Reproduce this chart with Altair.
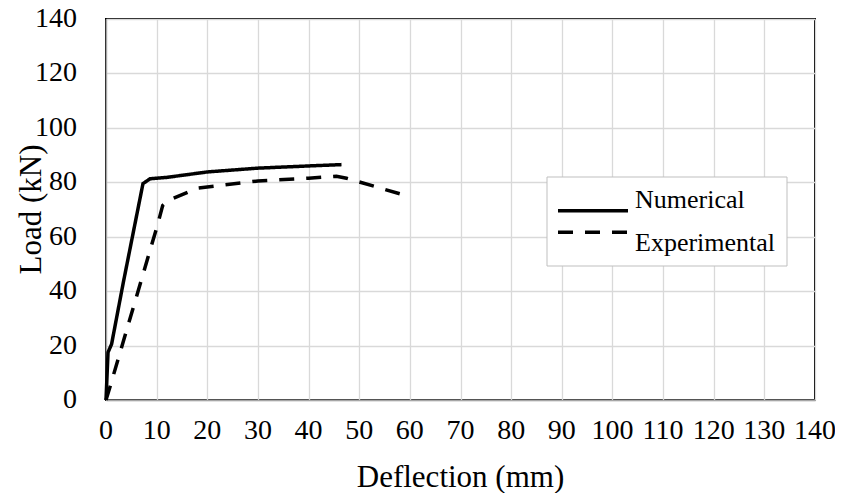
import altair as alt
import pandas as pd

# Numerical curve
num_x = [0, 0.4, 1.1, 3.4, 7.3, 8.7, 12, 20, 30, 40, 46.5]
num_y = [0, 17.5, 20.5, 43, 79.5, 81.3, 81.8, 83.8, 85.2, 86.0, 86.5]
# Experimental curve
exp_x = [0, 0.5, 10.2, 11.2, 12.5, 18, 30, 40, 45.5, 47.5, 58.5]
exp_y = [0, 3, 64.5, 71.5, 73.5, 77.8, 80.5, 81.5, 82.2, 81.5, 75.5]

series_names = ["Numerical", "Experimental"]
x_ticks = list(range(0, 141, 10))
y_ticks = list(range(0, 141, 20))
x_title = "Deflection (mm)"
y_title = "Load (kN)"

rows = []
for i, (x, y) in enumerate(zip(num_x, num_y)):
    rows.append({"series": "Numerical", "x": x, "y": y, "o": i})
for i, (x, y) in enumerate(zip(exp_x, exp_y)):
    rows.append({"series": "Experimental", "x": x, "y": y, "o": i})
df = pd.DataFrame(rows)
leg_df = pd.DataFrame({"series": series_names})

FONT = "Liberation Serif"
dash_scale = alt.Scale(domain=series_names, range=[[1, 0], [15, 12]])
x_scale = alt.Scale(domain=[0, 140], nice=False)
y_scale = alt.Scale(domain=[0, 140], nice=False)

lines = alt.Chart(df).mark_line(color="black", strokeWidth=3.5, strokeCap="butt").encode(
    x=alt.X("x:Q", scale=x_scale,
            axis=alt.Axis(values=x_ticks, title=None, labels=False)),
    y=alt.Y("y:Q", scale=y_scale,
            axis=alt.Axis(values=y_ticks, title=None, labels=False)),
    strokeDash=alt.StrokeDash("series:N", scale=dash_scale, legend=None),
    order="o:Q",
)

# tick labels and titles as text (serif)
x_lab = alt.Chart(pd.DataFrame({"v": x_ticks})).mark_text(
    baseline="middle", align="center", font=FONT, fontSize=28, color="black"
).encode(x=alt.X("v:Q", scale=x_scale), y=alt.value(412), text="v:Q")

y_lab = alt.Chart(pd.DataFrame({"v": y_ticks})).mark_text(
    baseline="middle", align="right", font=FONT, fontSize=28, color="black"
).encode(x=alt.value(-29), y=alt.Y("v:Q", scale=y_scale, axis=None), text="v:Q")

x_tit = alt.Chart(pd.DataFrame({"t": [x_title]})).mark_text(
    baseline="alphabetic", align="center", font=FONT, fontSize=31, color="black"
).encode(x=alt.value(354.5), y=alt.value(468), text="t:N")

y_tit = alt.Chart(pd.DataFrame({"t": [y_title]})).mark_text(
    baseline="alphabetic", align="center", font=FONT, fontSize=31, color="black", angle=270
).encode(x=alt.value(-65), y=alt.value(190.5), text="t:N")

# legend drawn as layers
leg_box = alt.Chart(pd.DataFrame({"a": [0]})).mark_rect(
    fill="white", stroke="#bfbfbf", strokeWidth=1
).encode(x=alt.value(441), x2=alt.value(681), y=alt.value(158), y2=alt.value(247))

leg_y = alt.Y("series:N", scale=alt.Scale(domain=series_names, range=[181, 224], padding=0),
              axis=None)

leg_rules = alt.Chart(leg_df).mark_rule(color="black", strokeWidth=3.5, strokeCap="butt").encode(
    x=alt.value(452), x2=alt.value(522), y=leg_y,
    strokeDash=alt.StrokeDash("series:N", scale=dash_scale, legend=None),
)
leg_text = alt.Chart(leg_df).mark_text(
    align="left", baseline="middle", font=FONT, fontSize=26, color="black"
).encode(x=alt.value(529), y=leg_y, text="series:N")

chart = alt.layer(lines, x_lab, y_lab, x_tit, y_tit, leg_box, leg_rules, leg_text).resolve_scale(
    y="independent"
).properties(
    width=709, height=381,
    autosize=alt.AutoSizeParams(type="none"),
    padding={"left": 98, "top": 11, "right": 20, "bottom": 93},
).configure_view(
    stroke="black", strokeWidth=2
).configure_axis(
    grid=True, gridColor="#d9d9d9", gridWidth=1.3,
    domainColor="#a6a6a6", domainWidth=1.3,
    ticks=False,
)

chart.save("out.html", embed_options={"renderer": "svg", "actions": False})
